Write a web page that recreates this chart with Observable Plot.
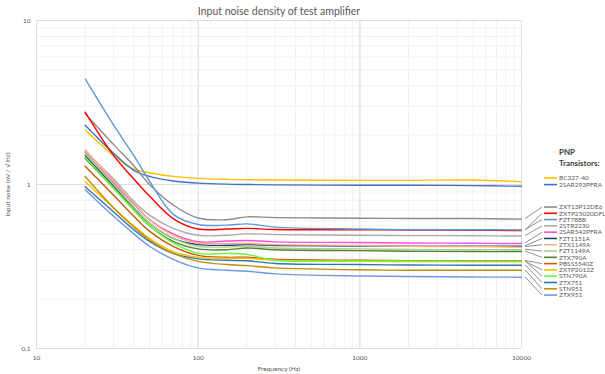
<!DOCTYPE html>
<html><head><meta charset="utf-8">
<script src="https://cdn.jsdelivr.net/npm/d3@7"></script>
<script src="https://cdn.jsdelivr.net/npm/@observablehq/plot@0.6"></script>
<style>
body{margin:0;background:#fff;}
#wrap{position:relative;width:605px;height:374px;font-family:Lato,sans-serif;}
#title{position:absolute;top:5px;left:36px;width:486px;text-align:center;font-size:10.5px;color:#595959;}
</style></head><body><div id="wrap"><div id="title">Input noise density of test amplifier</div></div>
<script>
// Frequencies (Hz)
const freqs = [20, 30, 40, 50, 70, 100, 150, 200, 300, 1000, 2000, 5000, 10000];
// Input noise (nV/√Hz) per transistor
const BC327_40     = [2.16, 1.50, 1.24, 1.18, 1.12, 1.09, 1.075, 1.07, 1.065, 1.06, 1.06, 1.065, 1.04];
const SAR293PFRA   = [2.30, 1.55, 1.22, 1.12, 1.05, 1.02, 1.005, 1.00, 0.995, 0.99, 0.99, 0.985, 0.975];
const ZXT13P12DE6  = [2.70, 1.75, 1.30, 1.00, 0.75, 0.625, 0.61, 0.635, 0.628, 0.623, 0.62, 0.62, 0.615];
const ZXTP25020DFL = [2.76, 1.50, 1.08, 0.85, 0.62, 0.535, 0.535, 0.54, 0.532, 0.53, 0.528, 0.526, 0.524];
const FZT788B      = [4.40, 2.30, 1.50, 1.05, 0.66, 0.57, 0.565, 0.575, 0.55, 0.535, 0.53, 0.53, 0.528];
const STR2230      = [1.59, 1.08, 0.79, 0.65, 0.54, 0.49, 0.49, 0.50, 0.495, 0.49, 0.488, 0.487, 0.485];
const SAR542PFRA   = [1.56, 1.02, 0.76, 0.61, 0.50, 0.448, 0.452, 0.456, 0.447, 0.443, 0.44, 0.438, 0.437];
const FZT1151A     = [1.50, 0.98, 0.72, 0.58, 0.47, 0.43, 0.426, 0.43, 0.425, 0.422, 0.421, 0.42, 0.42];
const ZTX1149A     = [1.63, 1.05, 0.77, 0.61, 0.49, 0.44, 0.436, 0.437, 0.43, 0.425, 0.42, 0.418, 0.415];
const FZT1149A     = [1.55, 1.00, 0.73, 0.58, 0.47, 0.42, 0.416, 0.42, 0.41, 0.405, 0.402, 0.40, 0.40];
const ZTX790A      = [1.44, 0.95, 0.70, 0.56, 0.45, 0.405, 0.40, 0.41, 0.40, 0.395, 0.392, 0.39, 0.39];
const PBSS5540Z    = [1.29, 0.86, 0.64, 0.52, 0.42, 0.37, 0.36, 0.36, 0.35, 0.345, 0.343, 0.342, 0.342];
const ZXTP2012Z    = [1.04, 0.72, 0.56, 0.47, 0.39, 0.36, 0.355, 0.355, 0.345, 0.34, 0.339, 0.338, 0.338];
const STN790A      = [1.46, 0.95, 0.70, 0.56, 0.44, 0.38, 0.38, 0.375, 0.345, 0.342, 0.341, 0.34, 0.34];
const ZTX751       = [0.97, 0.68, 0.53, 0.45, 0.38, 0.352, 0.345, 0.343, 0.33, 0.325, 0.323, 0.322, 0.322];
const STN951       = [1.12, 0.72, 0.55, 0.46, 0.38, 0.34, 0.325, 0.32, 0.31, 0.302, 0.30, 0.30, 0.30];
const ZTX951       = [0.93, 0.64, 0.50, 0.42, 0.35, 0.31, 0.30, 0.296, 0.285, 0.277, 0.275, 0.273, 0.272];

const names = ["BC327-40","2SAR293PFRA","ZXT13P12DE6","ZXTP25020DFL","FZT788B","2STR2230","2SAR542PFRA",
  "FZT1151A","ZTX1149A","FZT1149A","ZTX790A","PBSS5540Z","ZXTP2012Z","STN790A","ZTX751","STN951","ZTX951"];
const seriesValues = [BC327_40, SAR293PFRA, ZXT13P12DE6, ZXTP25020DFL, FZT788B, STR2230, SAR542PFRA,
  FZT1151A, ZTX1149A, FZT1149A, ZTX790A, PBSS5540Z, ZXTP2012Z, STN790A, ZTX751, STN951, ZTX951];
const colors = ["#FFC000","#4472C4","#8C8C8C","#FF0000","#5B9BD5","#ABABAB","#FF4FD8",
  "#264478","#F4B183","#A9D18E","#548235","#C55A11","#FFC000","#66FF33","#2E75B6","#BF9000","#6F9BE0"];
const group1 = names.slice(0, 2);
const group2 = names.slice(2);

const xTicks = [10, 100, 1000, 10000];
const yTicks = [0.1, 1, 10];
const yTickLabels = ["0,1", "1", "10"];

const rows = names.flatMap((n, i) => freqs.map((f, j) => ({name: n, f, v: seriesValues[i][j]})));
const xGrid = d3.scaleLog().domain([10, 10000]).ticks();
const yGrid = d3.scaleLog().domain([0.1, 10]).ticks();

const plot = Plot.plot({
  width: 605, height: 374,
  marginTop: 20, marginBottom: 26, marginLeft: 36, marginRight: 84,
  style: {fontFamily: "Lato, sans-serif", fontSize: "6.5px", color: "#595959", background: "transparent"},
  x: {type: "log", domain: [10, 10000], ticks: xTicks, tickFormat: d => String(d), tickSize: 0, tickPadding: 7,
      label: "Frequency (Hz)", labelAnchor: "center", labelArrow: "none", labelOffset: 22},
  y: {type: "log", domain: [0.1, 10], ticks: yTicks, tickFormat: d => yTickLabels[yTicks.indexOf(d)], tickSize: 0, tickPadding: 6,
      label: "Input noise (nV / √ Hz)", labelAnchor: "center", labelArrow: "none", labelOffset: 31},
  color: {domain: names, range: colors},
  marks: [
    Plot.ruleX(xGrid, {x: d => d, stroke: "#f2f2f2", strokeWidth: 1}),
    Plot.ruleY(yGrid, {y: d => d, stroke: "#f2f2f2", strokeWidth: 1}),
    Plot.ruleX(xTicks, {x: d => d, stroke: "#dedede", strokeWidth: 1}),
    Plot.ruleY(yTicks, {y: d => d, stroke: "#dedede", strokeWidth: 1}),
    Plot.lineY(rows, {x: "f", y: "v", z: "name", stroke: "name", strokeWidth: 1.4, curve: "catmull-rom"})
  ]
});
document.getElementById("wrap").appendChild(plot);
plot.style.position = "absolute"; plot.style.left = "0"; plot.style.top = "0";

// Legend with leader lines
const svg = d3.select(plot);
const xs = plot.scale("x"), ys = plot.scale("y");
const xEnd = xs.apply(10000);
const lastVal = n => seriesValues[names.indexOf(n)][freqs.length - 1];
const colorOf = n => colors[names.indexOf(n)];
const g = svg.append("g").attr("font-family", "Lato, sans-serif").attr("text-anchor", "start");
g.append("text").attr("x", xEnd + 38).attr("y", 152).attr("dy", "0.35em").attr("font-size", 8)
  .attr("font-weight", 700).attr("fill", "#404040").text("PNP");
g.append("text").attr("x", xEnd + 38).attr("y", 163).attr("dy", "0.35em").attr("font-size", 8)
  .attr("font-weight", 700).attr("fill", "#404040").text("Transistors:");
const place = (list, y0, step, leaders) => list.forEach((n, i) => {
  const ly = y0 + i * step;
  if (leaders) g.append("line").attr("x1", xEnd + 4).attr("y1", ys.apply(lastVal(n)))
    .attr("x2", xEnd + 21).attr("y2", ly).attr("stroke", "#8f8f8f").attr("stroke-width", 1);
  g.append("line").attr("x1", xEnd + 23).attr("x2", xEnd + 36).attr("y1", ly).attr("y2", ly)
    .attr("stroke", colorOf(n)).attr("stroke-width", 1.6);
  g.append("text").attr("x", xEnd + 38).attr("y", ly).attr("dy", "0.35em").attr("font-size", 6.5)
    .attr("fill", "#595959").text(n);
});
place(group1, 178, 6.6, false);
place(group2, 207, 6.29, true);
</script></body></html>
